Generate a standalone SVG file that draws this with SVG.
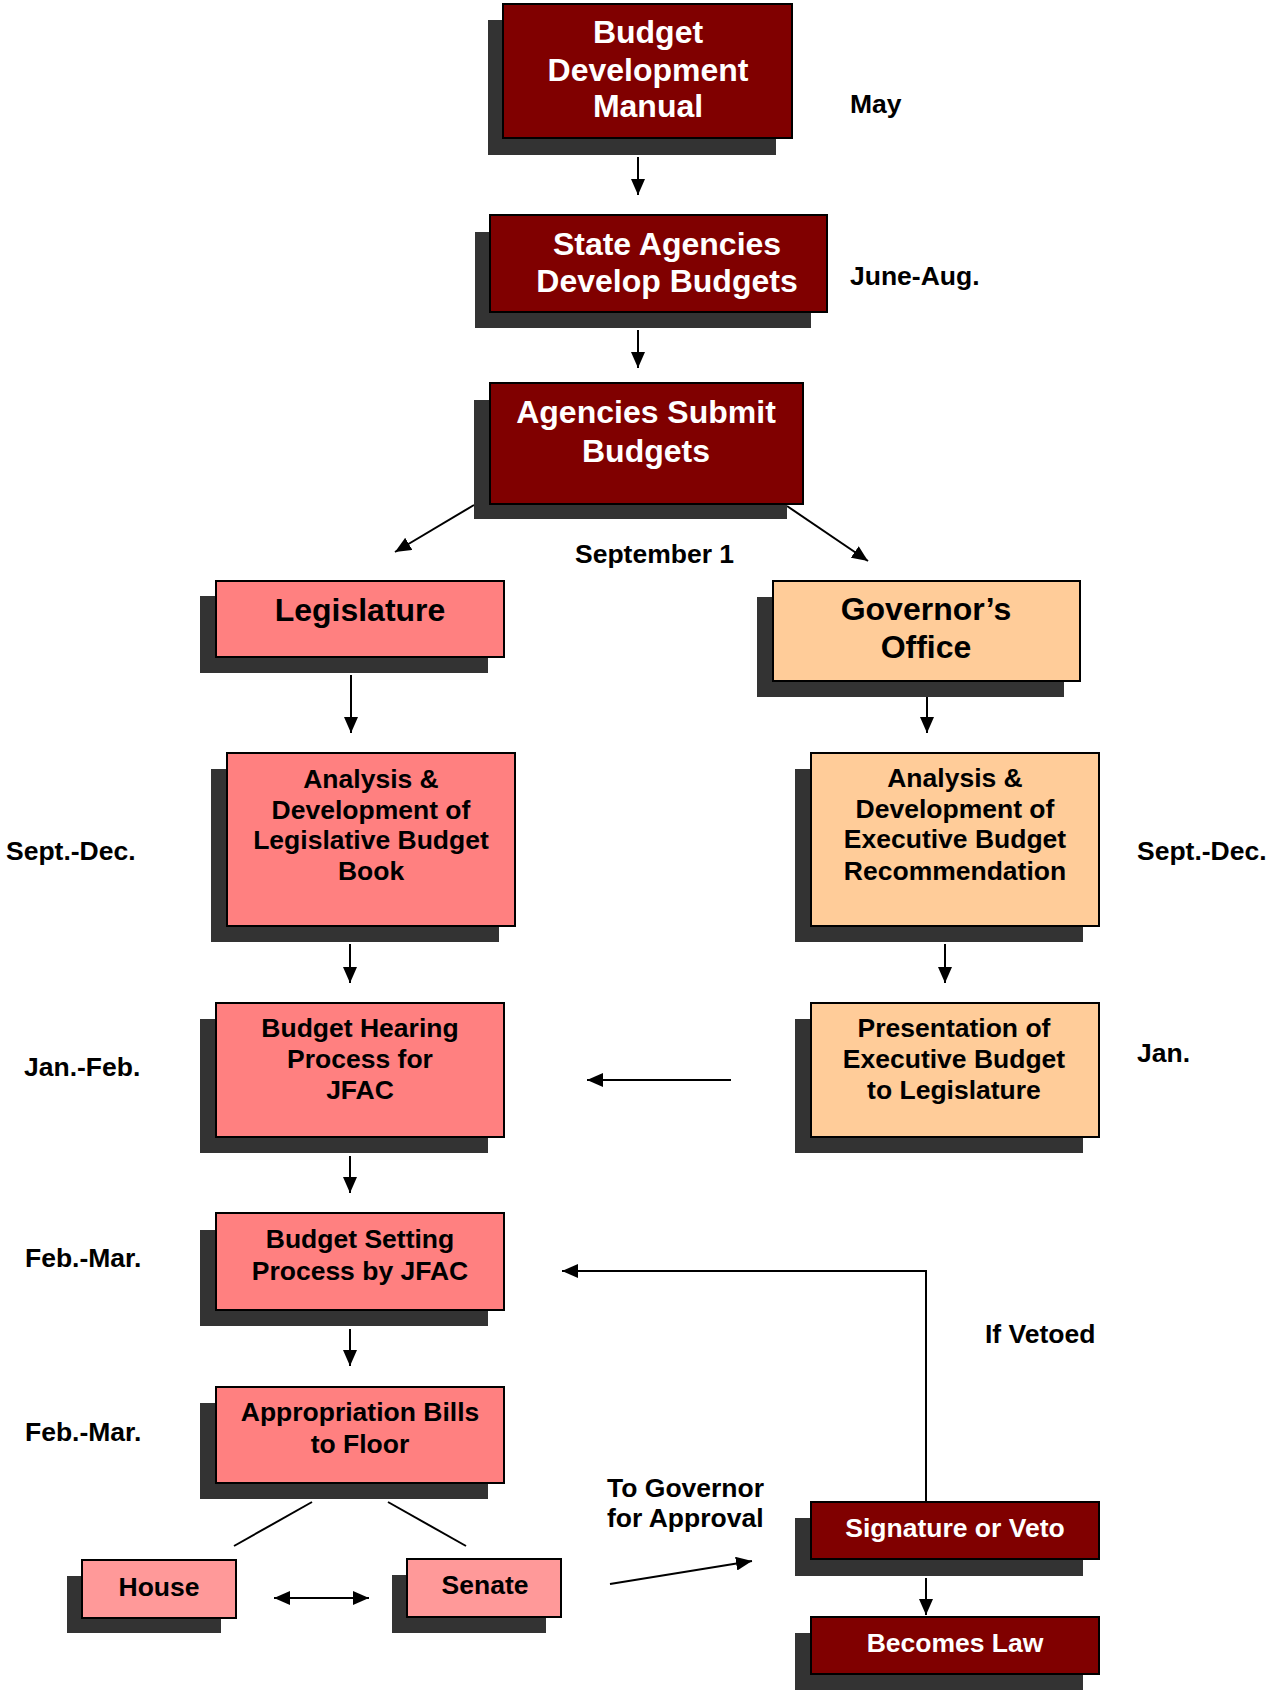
<svg xmlns="http://www.w3.org/2000/svg" width="1269" height="1690" viewBox="0 0 1269 1690">
<defs>
<style>
text{font-family:"Liberation Sans",Arial,sans-serif;font-weight:bold;}
.sh{fill:#333333;}
.dk{fill:#800000;stroke:#000;stroke-width:2;}
.pk{fill:#FF8080;stroke:#000;stroke-width:2;}
.lp{fill:#FF9999;stroke:#000;stroke-width:2;}
.pc{fill:#FFCC99;stroke:#000;stroke-width:2;}
.wt{fill:#fff;text-anchor:middle;}
.bt{fill:#000;text-anchor:middle;}
.lb{fill:#000;font-size:26.5px;}
.f31{font-size:32px;}
.f26{font-size:26.5px;}
.c{fill:none;stroke:#000;stroke-width:2;}
</style>
<marker id="ah" markerUnits="userSpaceOnUse" markerWidth="18" markerHeight="14" refX="16" refY="7" orient="auto-start-reverse">
<path d="M0,0 L16,7 L0,14 Z" fill="#000"/>
</marker>
</defs>
<rect width="1269" height="1690" fill="#fff"/>

<g id="connectors">
<line class="c" x1="638" y1="157" x2="638" y2="195" marker-end="url(#ah)"/>
<line class="c" x1="638" y1="330" x2="638" y2="368" marker-end="url(#ah)"/>
<line class="c" x1="474" y1="505" x2="395" y2="552" marker-end="url(#ah)"/>
<line class="c" x1="787" y1="506" x2="868" y2="561" marker-end="url(#ah)"/>
<line class="c" x1="351" y1="675" x2="351" y2="733" marker-end="url(#ah)"/>
<line class="c" x1="927" y1="695" x2="927" y2="733" marker-end="url(#ah)"/>
<line class="c" x1="350" y1="944" x2="350" y2="983" marker-end="url(#ah)"/>
<line class="c" x1="945" y1="944" x2="945" y2="983" marker-end="url(#ah)"/>
<line class="c" x1="731" y1="1080" x2="587" y2="1080" marker-end="url(#ah)"/>
<line class="c" x1="350" y1="1156" x2="350" y2="1193" marker-end="url(#ah)"/>
<line class="c" x1="350" y1="1329" x2="350" y2="1366" marker-end="url(#ah)"/>
<line class="c" x1="312" y1="1502" x2="234" y2="1546"/>
<line class="c" x1="388" y1="1502" x2="466" y2="1546"/>
<line class="c" x1="274" y1="1598" x2="369" y2="1598" marker-start="url(#ah)" marker-end="url(#ah)"/>
<line class="c" x1="610" y1="1584" x2="752" y2="1561" marker-end="url(#ah)"/>
<path class="c" d="M926,1502 V1271 H562" marker-end="url(#ah)"/>
<line class="c" x1="926" y1="1578" x2="926" y2="1615" marker-end="url(#ah)"/>
</g>

<g id="manual">
<rect class="sh" x="488" y="20" width="288" height="135"/>
<rect class="dk" x="503" y="4" width="289" height="134"/>
<text class="wt f31" x="648" y="43">Budget</text>
<text class="wt f31" x="648" y="81">Development</text>
<text class="wt f31" x="648" y="117">Manual</text>
</g>

<g id="develop">
<rect class="sh" x="475" y="232" width="336" height="96"/>
<rect class="dk" x="490" y="215" width="337" height="97"/>
<text class="wt f31" x="667" y="255">State Agencies</text>
<text class="wt f31" x="667" y="292">Develop Budgets</text>
</g>

<g id="submit">
<rect class="sh" x="474" y="400" width="313" height="119"/>
<rect class="dk" x="490" y="383" width="313" height="121"/>
<text class="wt f31" x="646" y="423">Agencies Submit</text>
<text class="wt f31" x="646" y="462">Budgets</text>
</g>

<g id="legislature">
<rect class="sh" x="200" y="596" width="288" height="77"/>
<rect class="pk" x="216" y="581" width="288" height="76"/>
<text class="bt f31" x="360" y="621">Legislature</text>
</g>

<g id="governor">
<rect class="sh" x="757" y="597" width="307" height="100"/>
<rect class="pc" x="773" y="581" width="307" height="100"/>
<text class="bt f31" x="926" y="620">Governor’s</text>
<text class="bt f31" x="926" y="658">Office</text>
</g>

<g id="leg-analysis">
<rect class="sh" x="211" y="769" width="288" height="173"/>
<rect class="pk" x="227" y="753" width="288" height="173"/>
<text class="bt f26" x="371" y="788">Analysis &amp;</text>
<text class="bt f26" x="371" y="819">Development of</text>
<text class="bt f26" x="371" y="849">Legislative Budget</text>
<text class="bt f26" x="371" y="880">Book</text>
</g>

<g id="exec-analysis">
<rect class="sh" x="795" y="769" width="288" height="173"/>
<rect class="pc" x="811" y="753" width="288" height="173"/>
<text class="bt f26" x="955" y="787">Analysis &amp;</text>
<text class="bt f26" x="955" y="818">Development of</text>
<text class="bt f26" x="955" y="848">Executive Budget</text>
<text class="bt f26" x="955" y="880">Recommendation</text>
</g>

<g id="hearing">
<rect class="sh" x="200" y="1019" width="288" height="134"/>
<rect class="pk" x="216" y="1003" width="288" height="134"/>
<text class="bt f26" x="360" y="1037">Budget Hearing</text>
<text class="bt f26" x="360" y="1068">Process for</text>
<text class="bt f26" x="360" y="1099">JFAC</text>
</g>

<g id="presentation">
<rect class="sh" x="795" y="1019" width="288" height="134"/>
<rect class="pc" x="811" y="1003" width="288" height="134"/>
<text class="bt f26" x="954" y="1037">Presentation of</text>
<text class="bt f26" x="954" y="1068">Executive Budget</text>
<text class="bt f26" x="954" y="1099">to Legislature</text>
</g>

<g id="setting">
<rect class="sh" x="200" y="1230" width="288" height="96"/>
<rect class="pk" x="216" y="1213" width="288" height="97"/>
<text class="bt f26" x="360" y="1248">Budget Setting</text>
<text class="bt f26" x="360" y="1280">Process by JFAC</text>
</g>

<g id="appropriation">
<rect class="sh" x="200" y="1403" width="288" height="96"/>
<rect class="pk" x="216" y="1387" width="288" height="96"/>
<text class="bt f26" x="360" y="1421">Appropriation Bills</text>
<text class="bt f26" x="360" y="1453">to Floor</text>
</g>

<g id="house">
<rect class="sh" x="67" y="1576" width="154" height="57"/>
<rect class="lp" x="82" y="1560" width="154" height="58"/>
<text class="bt f26" x="159" y="1596">House</text>
</g>

<g id="senate">
<rect class="sh" x="392" y="1575" width="154" height="58"/>
<rect class="lp" x="407" y="1559" width="154" height="58"/>
<text class="bt f26" x="485" y="1594">Senate</text>
</g>

<g id="signature">
<rect class="sh" x="795" y="1518" width="288" height="58"/>
<rect class="dk" x="811" y="1502" width="288" height="57"/>
<text class="wt f26" x="955" y="1537">Signature or Veto</text>
</g>

<g id="law">
<rect class="sh" x="795" y="1633" width="288" height="57"/>
<rect class="dk" x="811" y="1617" width="288" height="57"/>
<text class="wt f26" x="955" y="1652">Becomes Law</text>
</g>

<g id="labels">
<text class="lb" x="850" y="113">May</text>
<text class="lb" x="850" y="285">June-Aug.</text>
<text class="lb" x="575" y="563">September 1</text>
<text class="lb" x="6" y="860">Sept.-Dec.</text>
<text class="lb" x="1137" y="860">Sept.-Dec.</text>
<text class="lb" x="24" y="1076">Jan.-Feb.</text>
<text class="lb" x="1137" y="1062">Jan.</text>
<text class="lb" x="25" y="1267">Feb.-Mar.</text>
<text class="lb" x="25" y="1441">Feb.-Mar.</text>
<text class="lb" x="985" y="1343">If Vetoed</text>
<text class="lb" x="607" y="1497">To Governor</text>
<text class="lb" x="607" y="1527">for Approval</text>
</g>
</svg>
